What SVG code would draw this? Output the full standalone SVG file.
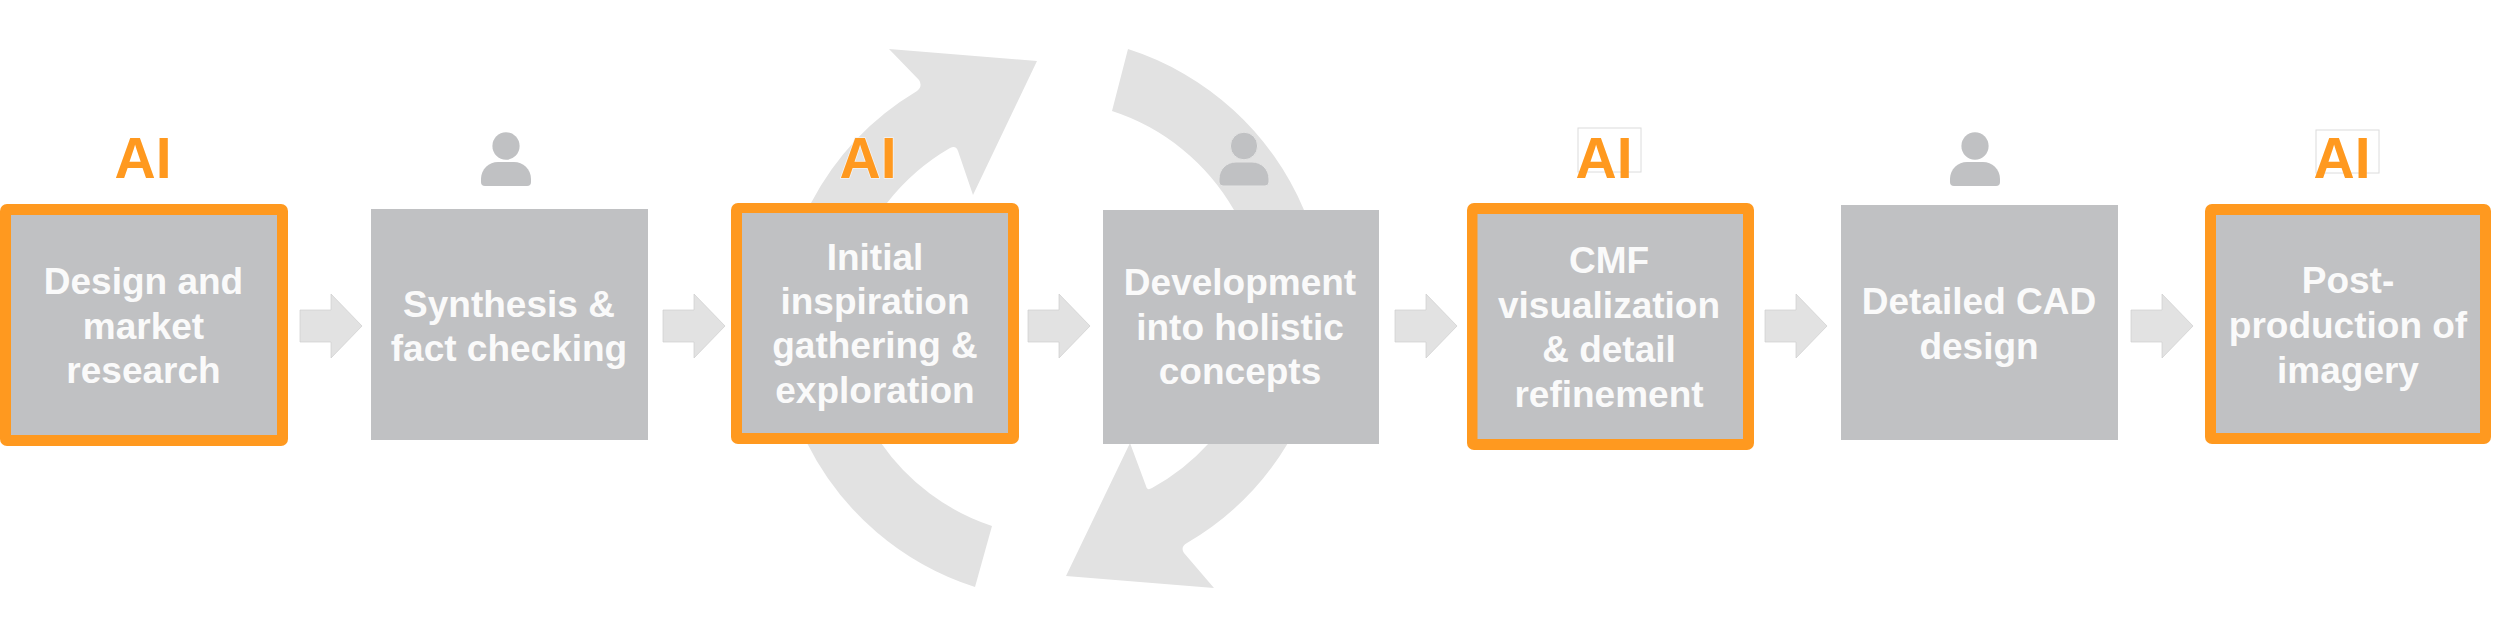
<svg xmlns="http://www.w3.org/2000/svg" width="2500" height="634" viewBox="0 0 2500 634">
<style>
.box{fill:#c0c1c3}
.hi{fill:#ff991f}
.t{font-family:"Liberation Sans",Arial,sans-serif;font-weight:700;font-size:37px;fill:#fafafa;text-anchor:middle}
.ai{font-family:"Liberation Sans",Arial,sans-serif;font-weight:700;font-size:57px;fill:#ff991f;text-anchor:middle}
.sw{fill:#e2e2e2}
.ar{fill:#e2e2e2;stroke:#cfcfcf;stroke-width:.7}
.p{fill:#c0c1c3}
.pl{stroke:#e4e4e4;stroke-width:1}
.tag{fill:#fff;stroke:#dcdcdc;stroke-width:1}
</style>
<defs>
<path id="arrow" d="M0 -16H31V-32L62 0L31 32V16H0Z"/>
<g id="person"><ellipse cx="0" cy="-40" rx="13.600" ry="13.800"/><path d="M-25 -4V-7C-25 -17 -17 -24 -8 -24H8C17 -24 25 -17 25 -7V-4Q25 0 21 0H-21Q-25 0 -25 -4Z"/></g>
</defs>
<rect width="2500" height="634" fill="#fff"/>
<g id="cycle">
<path class="sw" d="M1037 61L889 49L919 80Q923 86 917 91A285 285 0 0 0 811 203H887A218 218 0 0 1 950 148Q956 145 958 151L973 195Z"/>
<path class="sw" d="M1128 49L1112 111A218 218 0 0 1 1234 210H1304A285 285 0 0 0 1128 49Z"/>
<path class="sw" d="M807 443H881A218 218 0 0 0 992 526L975 587A285 285 0 0 1 807 443Z"/>
<path class="sw" d="M1066 576L1214 588L1184 553Q1180 547 1187 543A285 285 0 0 0 1288 443H1209A218 218 0 0 1 1152 488Q1147 491 1146 486L1130 443Z"/>
</g>
<g id="connectors">
<use href="#arrow" class="ar" x="300" y="326"/>
<use href="#arrow" class="ar" x="663" y="326"/>
<use href="#arrow" class="ar" x="1028" y="326"/>
<use href="#arrow" class="ar" x="1395" y="326"/>
<use href="#arrow" class="ar" x="1765" y="326"/>
<use href="#arrow" class="ar" x="2131" y="326"/>
</g>
<g id="node-1">
<rect class="hi" x="0" y="204" width="288" height="242" rx="7"/>
<rect class="box" x="11" y="215" width="266" height="220"/>
<text class="t" x="143.500" y="294">Design and</text><text class="t" x="143.500" y="338.500">market</text><text class="t" x="143.500" y="383">research</text>
<text class="ai" x="143" y="178">AI</text>
</g>
<g id="node-2">
<rect class="box" x="371" y="209" width="277" height="231"/>
<text class="t" x="509" y="317">Synthesis &amp;</text><text class="t" x="509" y="361">fact checking</text>
<use href="#person" class="p" x="506" y="186"/>
</g>
<g id="node-3">
<rect class="hi" x="731" y="203" width="288" height="241" rx="7"/>
<rect class="box" x="742" y="213" width="266" height="220"/>
<text class="t" x="875" y="270">Initial</text><text class="t" x="875" y="314">inspiration</text><text class="t" x="875" y="358">gathering &amp;</text><text class="t" x="875" y="402.500">exploration</text>
<text class="ai" x="868" y="178" stroke="#f4f4f4" stroke-width="1.500" paint-order="stroke">AI</text>
</g>
<g id="node-4">
<rect class="box" x="1103" y="210" width="276" height="234"/>
<text class="t" x="1240" y="295">Development</text><text class="t" x="1240" y="340">into holistic</text><text class="t" x="1240" y="384">concepts</text>
<use href="#person" class="p pl" x="1244" y="186"/>
</g>
<g id="node-5">
<rect class="hi" x="1467" y="203" width="287" height="247" rx="7"/>
<rect class="box" x="1477.500" y="214" width="265.500" height="225"/>
<text class="t" x="1609" y="273">CMF</text><text class="t" x="1609" y="317.500">visualization</text><text class="t" x="1609" y="362">&amp; detail</text><text class="t" x="1609" y="406.500">refinement</text>
<rect class="tag" x="1578" y="128" width="63" height="44"/>
<text class="ai" x="1604" y="178">AI</text>
</g>
<g id="node-6">
<rect class="box" x="1841" y="205" width="277" height="235"/>
<text class="t" x="1979" y="314">Detailed CAD</text><text class="t" x="1979" y="358.500">design</text>
<use href="#person" class="p" x="1975" y="186"/>
</g>
<g id="node-7">
<rect class="hi" x="2205" y="204" width="286" height="240" rx="7"/>
<rect class="box" x="2216" y="215" width="264" height="218"/>
<text class="t" x="2348" y="293">Post-</text><text class="t" x="2348" y="338">production of</text><text class="t" x="2348" y="382.500">imagery</text>
<rect class="tag" x="2316" y="130" width="63" height="43"/>
<text class="ai" x="2342" y="178">AI</text>
</g>
</svg>
